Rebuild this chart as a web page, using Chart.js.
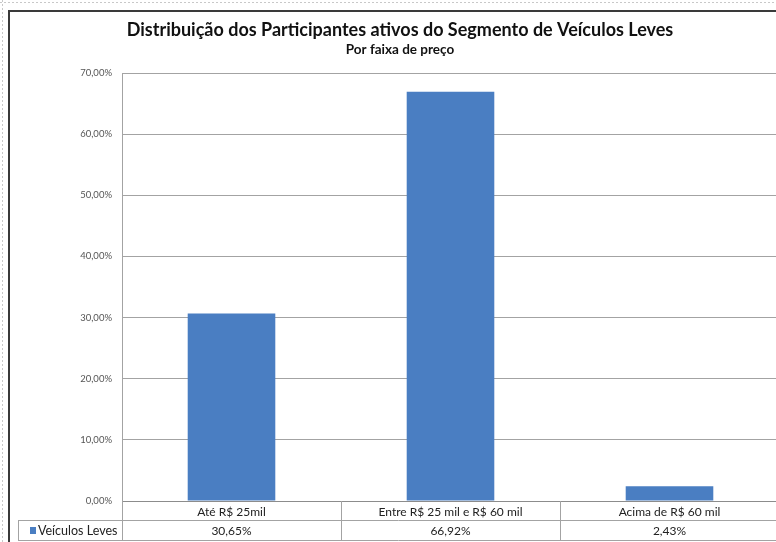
<!DOCTYPE html>
<html>
<head>
<meta charset="utf-8">
<script src="https://cdn.jsdelivr.net/npm/chart.js@4.4.1/dist/chart.umd.min.js"></script>
<style>
  html, body { margin: 0; padding: 0; background: #fff; overflow: hidden; }
  #wrap { position: relative; width: 776px; height: 542px; overflow: hidden; }
  canvas { position: absolute; left: 0; top: 0; }
</style>
</head>
<body>
<div id="wrap"><canvas id="chart" width="800" height="542"></canvas></div>
<script>
const titleText = 'Distribuição dos Participantes ativos do Segmento de Veículos Leves';
const subtitleText = 'Por faixa de preço';
const categories = ['Até R$ 25mil', 'Entre R$ 25 mil e R$ 60 mil', 'Acima de R$ 60 mil'];
const seriesName = 'Veículos Leves';
const seriesValues = [30.65, 66.92, 2.43];
const yTicks = [0, 10, 20, 30, 40, 50, 60, 70];

const barColor = '#4a7ec2';
const lineColor = '#a3a3a3';
const pct = v => v.toFixed(2).replace('.', ',') + '%';

// frame, titles and the data table under the axis
const tablePlugin = {
  id: 'dataTable',
  beforeDraw(chart) {
    const ctx = chart.ctx;
    ctx.save();
    ctx.fillStyle = '#fff';
    ctx.fillRect(0, 0, chart.width, chart.height);
    ctx.restore();
  },
  afterDraw(chart) {
    const ctx = chart.ctx;
    const x = chart.scales.x;
    const area = chart.chartArea;
    const colW = x.width / categories.length;
    const row1 = area.bottom, row2 = area.bottom + 19, row3 = area.bottom + 39;
    ctx.save();
    // outer frame
    ctx.strokeStyle = '#c8c8c8';
    ctx.setLineDash([2, 2]);
    ctx.beginPath();
    ctx.moveTo(0, 2.5); ctx.lineTo(chart.width, 2.5);
    ctx.moveTo(2.5, 0); ctx.lineTo(2.5, chart.height);
    ctx.stroke();
    ctx.setLineDash([]);
    ctx.strokeStyle = '#3a3a3a';
    ctx.lineWidth = 2;
    ctx.beginPath();
    ctx.moveTo(9, chart.height); ctx.lineTo(9, 11); ctx.lineTo(chart.width, 11);
    ctx.stroke();

    // titles
    ctx.fillStyle = '#111';
    ctx.textAlign = 'center';
    ctx.textBaseline = 'middle';
    ctx.font = 'bold 18px Lato';
    ctx.fillText(titleText, 400, 30);
    ctx.font = 'bold 13.5px Lato';
    ctx.fillText(subtitleText, 400, 50);

    // table lines
    ctx.lineWidth = 1;
    ctx.strokeStyle = lineColor;
    ctx.beginPath();
    ctx.moveTo(18, row2 + 0.5); ctx.lineTo(area.right, row2 + 0.5);
    ctx.moveTo(18, row3 + 0.5); ctx.lineTo(area.right, row3 + 0.5);
    ctx.moveTo(18.5, row2); ctx.lineTo(18.5, row3);
    for (let i = 0; i <= categories.length; i++) {
      const cx = Math.round(area.left + i * colW) + 0.5;
      ctx.moveTo(cx, i === 0 ? area.top : row1); ctx.lineTo(cx, row3);
    }
    ctx.stroke();

    // legend key + series name
    ctx.fillStyle = barColor;
    ctx.fillRect(30, row2 + 7, 6, 7);
    ctx.fillStyle = '#222';
    ctx.font = '12.5px Lato';
    ctx.textAlign = 'left';
    ctx.fillText(seriesName, 38, row2 + 11);

    // values
    ctx.font = '12px Lato';
    ctx.textAlign = 'center';
    seriesValues.forEach((v, i) => {
      ctx.fillText(pct(v), x.getPixelForValue(i), row2 + 11);
    });
    ctx.restore();
  }
};

new Chart(document.getElementById('chart'), {
  type: 'bar',
  data: {
    labels: categories,
    datasets: [{
      label: seriesName,
      data: seriesValues,
      backgroundColor: barColor,
      barPercentage: 0.4,
      categoryPercentage: 1
    }]
  },
  options: {
    responsive: false,
    animation: false,
    layout: { padding: { left: 0, right: 21, top: 73, bottom: 0 } },
    plugins: {
      legend: { display: false },
      tooltip: { enabled: false },
      title: { display: false }
    },
    scales: {
      x: {
        grid: { display: false, drawTicks: false },
        border: { color: '#8c8c8c' },
        ticks: { font: { family: 'Lato', size: 12 }, color: '#222', padding: 4 },
        afterFit(s) { s.height = 41; }
      },
      y: {
        min: 0,
        max: 70,
        afterBuildTicks(s) { s.ticks = yTicks.map(v => ({ value: v })); },
        grid: { color: lineColor, drawTicks: false },
        border: { color: lineColor },
        ticks: {
          font: { family: 'Lato', size: 9.5 },
          color: '#555',
          padding: 10,
          callback: v => pct(v)
        },
        afterFit(s) { s.width = 122; }
      }
    }
  },
  plugins: [tablePlugin]
});
</script>
</body>
</html>
